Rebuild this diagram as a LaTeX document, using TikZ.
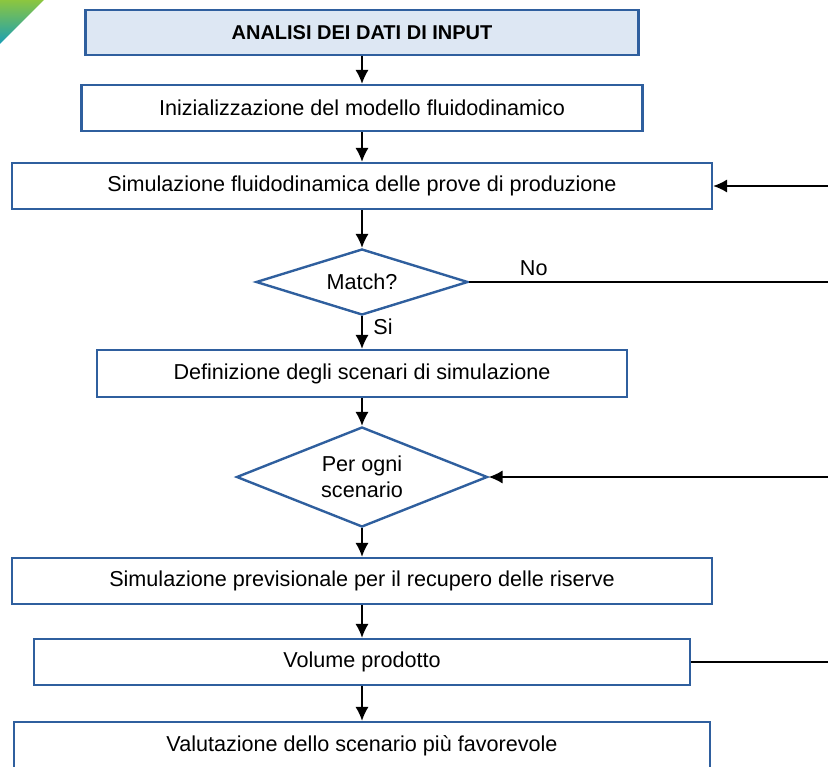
\documentclass[tikz,border=0pt]{standalone}
\usepackage{fontspec}
\setmainfont{Liberation Sans}
\usetikzlibrary{shapes.geometric,arrows.meta}

\definecolor{boxblue}{HTML}{2F5F9E}
\definecolor{headfill}{HTML}{DDE7F3}
\definecolor{cornergreen}{HTML}{8CC63F}
\definecolor{cornerteal}{HTML}{1A9FB5}

\tikzset{
    stepbox/.style={rectangle, draw=boxblue, line width=1.8pt, inner sep=0pt,
        minimum height=34.5pt, font=\fontsize{16.2}{19}\selectfont},
    choice/.style={diamond, draw=boxblue, line width=1.8pt, inner sep=0pt,
        align=center, font=\fontsize{16.2}{19.5}\selectfont},
    lbl/.style={inner sep=0pt, font=\fontsize{16.2}{19}\selectfont},
    flow/.style={-{Latex[length=10.5pt,width=10pt]}, line width=1.2pt},
    plain/.style={line width=1.2pt}
}

\begin{document}
\begin{tikzpicture}[x=0.75pt, y=-0.75pt]
\useasboundingbox (0,0) rectangle (828,767);

% corner mark
\shade[top color=cornergreen, bottom color=cornerteal] (0,0) -- (44,0) -- (0,44) -- cycle;

\node[stepbox, fill=headfill, minimum width=414.75pt, minimum height=33.75pt,
      font=\fontsize{15}{18}\selectfont\bfseries] (input) at (362,32.5) {ANALISI DEI DATI DI INPUT};
\node[stepbox, minimum width=420.75pt] (init) at (362,108) {Inizializzazione del modello fluidodinamico};
\node[stepbox, minimum width=525pt] (history) at (362,186) {Simulazione fluidodinamica delle prove di produzione};
\node[choice, aspect=3.2, minimum width=159pt, minimum height=49.5pt] (match) at (362,282) {Match?};
\node[stepbox, minimum width=397.5pt, minimum height=35.25pt] (scen) at (362,373.5) {Definizione degli scenari di simulazione};
\node[choice, aspect=2.5, minimum width=188.25pt, minimum height=75pt] (loop) at (362,477) {Per ogni\\scenario};
\node[stepbox, minimum width=525pt] (forecast) at (362,581) {Simulazione previsionale per il recupero delle riserve};
\node[stepbox, minimum width=492pt] (volume) at (362,662) {Volume prodotto};
\node[stepbox, minimum width=522pt, minimum height=36pt] (best) at (362,746) {Valutazione dello scenario più favorevole};

\coordinate (backA) at (828,186);
\coordinate (outM) at (828,282);
\coordinate (backB) at (828,477);
\coordinate (outV) at (828,662);

\draw[flow] (input) -- (init);
\draw[flow] (init) -- (history);
\draw[flow] (history) -- (match);
\draw[flow] (match) -- node[lbl, right=8pt, pos=0.32] (si) {Si} (scen);
\draw[flow] (scen) -- (loop);
\draw[flow] (loop) -- (forecast);
\draw[flow] (forecast) -- (volume);
\draw[flow] (volume) -- (best);

\draw[plain] (match.east) -- node[lbl, above=4pt, pos=0.18] (no) {No} (outM);
\draw[flow] (backA) -- (history.east);
\draw[flow] (backB) -- (loop.east);
\draw[plain] (volume.east) -- (outV);
\end{tikzpicture}
\end{document}
